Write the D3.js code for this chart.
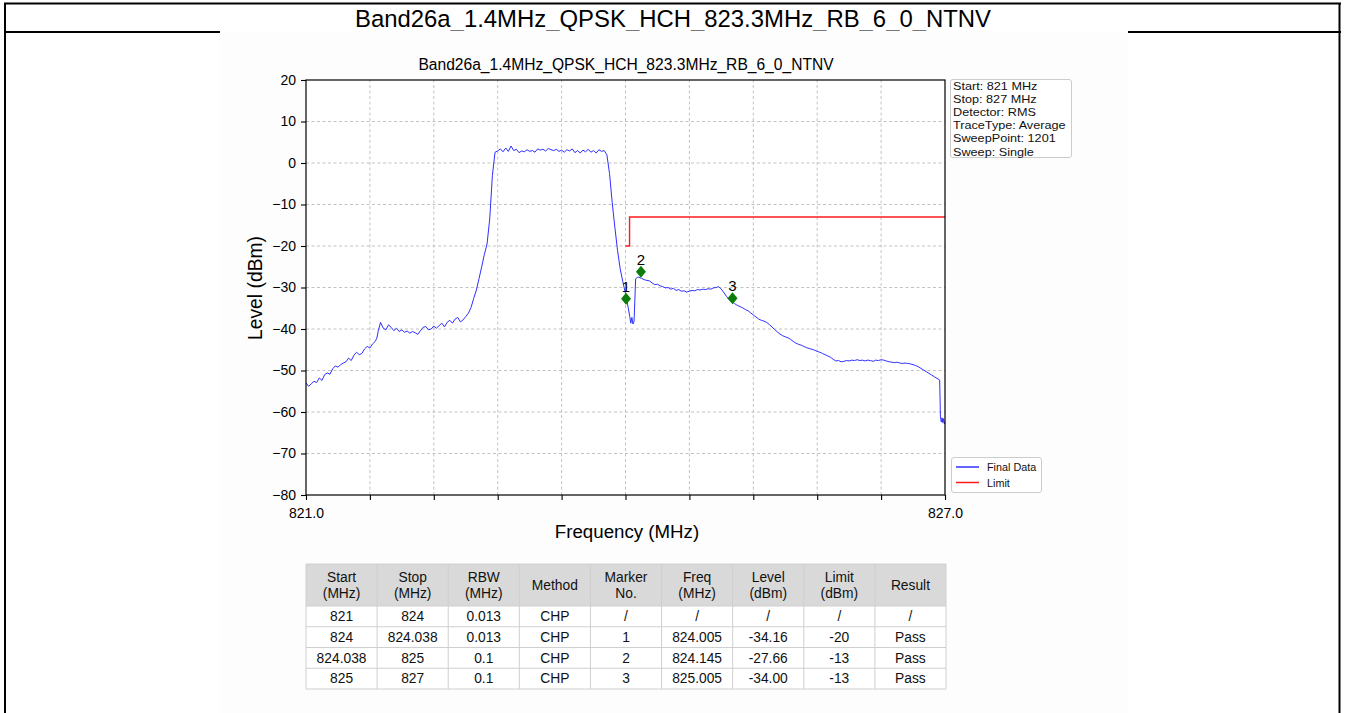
<!DOCTYPE html>
<html><head><meta charset="utf-8">
<script src="https://cdn.jsdelivr.net/npm/d3@7"></script>
<style>body{margin:0;background:#fff}svg{display:block;font-family:"Liberation Sans",Arial,sans-serif}</style>
</head><body><svg id="c" width="1345" height="713"></svg>
<script>
// ---------------- data ----------------
const pageTitle = "Band26a_1.4MHz_QPSK_HCH_823.3MHz_RB_6_0_NTNV";
const chartTitle = "Band26a_1.4MHz_QPSK_HCH_823.3MHz_RB_6_0_NTNV";
const xLabel = "Frequency (MHz)";
const yLabel = "Level (dBm)";
const xDomain = [821, 827];
const yDomain = [-80, 20];
const xTickValues = [821, 821.6, 822.2, 822.8, 823.4, 824, 824.6, 825.2, 825.8, 826.4, 827];
const xTickLabels = ["821.0", "", "", "", "", "", "", "", "", "", "827.0"];
const yTickValues = [-80, -70, -60, -50, -40, -30, -20, -10, 0, 10, 20];

const traceData = [
[821.000,-53.0],[821.025,-53.8],[821.050,-53.2],[821.075,-52.6],[821.100,-52.9],[821.125,-51.8],
[821.150,-52.4],[821.175,-51.0],[821.200,-50.6],[821.225,-50.9],[821.250,-49.6],[821.275,-48.9],
[821.300,-49.2],[821.325,-48.6],[821.350,-48.2],[821.375,-47.9],[821.400,-47.0],[821.425,-47.6],
[821.450,-46.3],[821.475,-45.6],[821.500,-46.2],[821.525,-45.9],[821.550,-44.8],[821.575,-44.2],
[821.600,-44.6],[821.625,-43.6],[821.650,-43.0],[821.665,-42.2],[821.680,-40.3],[821.700,-38.4],
[821.725,-39.8],[821.750,-40.2],[821.775,-39.0],[821.800,-39.6],[821.825,-40.4],[821.850,-39.8],
[821.875,-40.6],[821.900,-40.2],[821.925,-40.8],[821.950,-40.5],[821.975,-41.0],[822.000,-40.6],
[822.025,-40.9],[822.050,-41.3],[822.075,-40.4],[822.100,-39.6],[822.125,-39.4],[822.150,-40.2],
[822.175,-40.0],[822.200,-39.3],[822.225,-39.8],[822.250,-39.2],[822.275,-38.6],[822.300,-39.5],
[822.325,-38.4],[822.350,-37.9],[822.375,-38.6],[822.400,-37.6],[822.425,-37.2],[822.450,-38.3],
[822.475,-37.8],[822.500,-37.0],[822.525,-36.2],[822.550,-34.8],[822.575,-32.6],[822.600,-30.6],
[822.625,-27.8],[822.650,-25.0],[822.675,-22.0],[822.700,-19.5],[822.725,-13.5],[822.750,-3.0],
[822.775,2.6],[822.800,2.9],[822.825,3.4],[822.850,2.7],[822.875,3.6],[822.900,2.8],[822.925,4.1],
[822.950,3.0],[822.975,3.3],[823.000,2.5],[823.025,2.9],[823.050,2.7],[823.075,3.2],[823.100,2.8],
[823.125,3.0],[823.150,2.6],[823.175,3.4],[823.200,3.1],[823.225,3.3],[823.250,2.9],[823.275,3.5],
[823.300,3.2],[823.325,3.0],[823.350,3.3],[823.375,2.8],[823.400,3.1],[823.425,2.6],[823.450,3.2],
[823.475,2.9],[823.500,3.4],[823.525,2.5],[823.550,3.0],[823.575,2.4],[823.600,3.1],[823.625,2.7],
[823.650,3.3],[823.675,2.6],[823.700,3.0],[823.725,2.4],[823.750,3.2],[823.775,2.8],[823.800,3.0],
[823.825,2.0],[823.850,-2.5],[823.875,-9.5],[823.900,-15.5],[823.925,-21.0],[823.950,-25.5],
[823.975,-28.6],[824.000,-31.5],[824.025,-34.8],[824.040,-37.0],[824.050,-38.6],[824.060,-37.2],
[824.070,-38.8],[824.080,-38.2],[824.088,-33.0],[824.095,-27.9],[824.110,-27.6],[824.125,-27.5],
[824.150,-27.8],[824.175,-28.1],[824.200,-28.3],[824.225,-28.4],[824.250,-28.9],[824.275,-29.3],
[824.300,-29.2],[824.325,-29.6],[824.350,-29.8],[824.375,-30.1],[824.400,-30.0],[824.425,-30.4],
[824.450,-30.2],[824.475,-30.7],[824.500,-30.5],[824.525,-30.9],[824.550,-30.8],[824.575,-31.1],
[824.600,-30.9],[824.625,-30.7],[824.650,-30.8],[824.675,-30.5],[824.700,-30.6],[824.725,-30.4],
[824.750,-30.5],[824.775,-30.3],[824.800,-30.4],[824.825,-30.1],[824.850,-30.0],[824.875,-29.8],
[824.900,-30.4],[824.925,-31.3],[824.950,-32.2],[824.975,-33.0],[825.000,-33.4],[825.025,-33.9],
[825.050,-34.3],[825.075,-34.6],[825.100,-34.9],[825.125,-35.3],[825.150,-35.6],[825.175,-36.1],
[825.200,-36.6],[825.225,-37.1],[825.250,-37.6],[825.275,-37.9],[825.300,-38.1],[825.325,-38.4],
[825.350,-38.9],[825.375,-39.5],[825.400,-40.1],[825.425,-40.7],[825.450,-41.2],[825.475,-41.6],
[825.500,-41.9],[825.525,-42.1],[825.550,-42.5],[825.575,-43.0],[825.600,-43.4],[825.625,-43.7],
[825.650,-43.9],[825.675,-44.2],[825.700,-44.5],[825.725,-44.7],[825.750,-44.9],[825.775,-45.1],
[825.800,-45.4],[825.825,-45.6],[825.850,-45.9],[825.875,-46.2],[825.900,-46.5],[825.925,-46.8],
[825.950,-47.3],[825.975,-47.7],[826.000,-47.6],[826.025,-47.9],[826.050,-47.8],[826.075,-47.6],
[826.100,-47.7],[826.125,-47.5],[826.150,-47.6],[826.175,-47.4],[826.200,-47.6],[826.225,-47.5],
[826.250,-47.7],[826.275,-47.5],[826.300,-47.6],[826.325,-47.8],[826.350,-47.5],[826.375,-47.6],
[826.400,-47.4],[826.425,-47.5],[826.450,-47.7],[826.475,-47.9],[826.500,-48.0],[826.525,-48.1],
[826.550,-48.0],[826.575,-48.2],[826.600,-48.3],[826.625,-48.2],[826.650,-48.3],[826.675,-48.4],
[826.700,-48.6],[826.725,-48.8],[826.750,-49.1],[826.775,-49.5],[826.800,-49.9],[826.825,-50.3],
[826.850,-50.7],[826.875,-51.1],[826.900,-51.5],[826.925,-51.9],[826.950,-52.3],[826.957,-61.0],
[826.965,-62.4],[826.972,-61.4],[826.980,-62.6],[826.987,-61.6],[826.994,-62.9],[827.000,-62.5]
];

const limitData = [[824.0,-20],[824.038,-20],[824.038,-13],[827.0,-13]];

const markerFreq = [824.005, 824.145, 825.005];
const markerLevel = [-32.7, -26.2, -32.6];
const markerLabels = ["1", "2", "3"];

const infoLines = ["Start: 821 MHz", "Stop: 827 MHz", "Detector: RMS", "TraceType: Average", "SweepPoint: 1201", "Sweep: Single"];
const legendNames = ["Final Data", "Limit"];

const tableHeaders = [["Start","(MHz)"],["Stop","(MHz)"],["RBW","(MHz)"],["Method"],["Marker","No."],["Freq","(MHz)"],["Level","(dBm)"],["Limit","(dBm)"],["Result"]];
const tableRows = [
  ["821","824","0.013","CHP","/","/","/","/","/"],
  ["824","824.038","0.013","CHP","1","824.005","-34.16","-20","Pass"],
  ["824.038","825","0.1","CHP","2","824.145","-27.66","-13","Pass"],
  ["825","827","0.1","CHP","3","825.005","-34.00","-13","Pass"]
];

// ---------------- drawing ----------------
const svg = d3.select("#c");
const W = 1345, H = 713;
const blue = "#2f2fff", red = "#ff1a1a", green = "#0a7d0a";

// page frame
svg.append("rect").attr("x",0).attr("y",0).attr("width",W).attr("height",H).attr("fill","#fff");
svg.append("text").attr("x",673).attr("y",26.5).attr("text-anchor","middle")
  .attr("font-size",23.9).attr("fill","#000").text(pageTitle);
svg.append("line").attr("x1",4).attr("x2",1341).attr("y1",32).attr("y2",32).attr("stroke","#000").attr("stroke-width",2);
// chart image area
svg.append("rect").attr("x",220).attr("y",31).attr("width",908).attr("height",H-31).attr("fill","#fdfdfd");
svg.append("line").attr("x1",4).attr("x2",1341).attr("y1",3.5).attr("y2",3.5).attr("stroke","#000").attr("stroke-width",2);
svg.append("line").attr("x1",5).attr("x2",5).attr("y1",3).attr("y2",H).attr("stroke","#000").attr("stroke-width",2);
svg.append("line").attr("x1",1339.5).attr("x2",1339.5).attr("y1",3).attr("y2",H).attr("stroke","#000").attr("stroke-width",2);

// scales
const x = d3.scaleLinear().domain(xDomain).range([306, 945]);
const y = d3.scaleLinear().domain(yDomain).range([495, 80]);

const plot = svg.append("g");
plot.append("rect").attr("x",306).attr("y",80).attr("width",639).attr("height",415).attr("fill","#fff");

// grid
plot.append("g").selectAll("line").data(xTickValues.slice(1,-1)).join("line")
  .attr("x1",d=>x(d)).attr("x2",d=>x(d)).attr("y1",y(yDomain[0])).attr("y2",y(yDomain[1]))
  .attr("stroke","#b4b4b4").attr("stroke-width",0.8).attr("stroke-dasharray","3,2.5");
plot.append("g").selectAll("line").data(yTickValues.slice(1,-1)).join("line")
  .attr("x1",x(xDomain[0])).attr("x2",x(xDomain[1])).attr("y1",d=>y(d)).attr("y2",d=>y(d))
  .attr("stroke","#b4b4b4").attr("stroke-width",0.8).attr("stroke-dasharray","3,2.5");

// axes
const fmtMinus = d => String(d).replace("-", "\u2212");
const xAxis = d3.axisBottom(x).tickValues(xTickValues).tickSize(5).tickSizeOuter(0).tickPadding(8)
  .tickFormat((d,i)=>xTickLabels[i]);
const yAxis = d3.axisLeft(y).tickValues(yTickValues).tickSize(5).tickSizeOuter(0).tickPadding(5)
  .tickFormat(fmtMinus);
const gx = plot.append("g").attr("transform","translate(0,495)").call(xAxis);
const gy = plot.append("g").attr("transform","translate(306,0)").call(yAxis);
[gx, gy].forEach(g => {
  g.select(".domain").remove();
  g.selectAll(".tick line").attr("stroke","#000").attr("stroke-width",1.1);
  g.selectAll(".tick text").attr("font-size",14).attr("fill","#000").attr("font-family","Liberation Sans, Arial, sans-serif");
});

// trace
const line = d3.line().x(d=>x(d[0])).y(d=>y(d[1]));
plot.append("path").datum(traceData).attr("d",line).attr("fill","none")
  .attr("stroke",blue).attr("stroke-width",1).attr("stroke-linejoin","round");
plot.append("path").datum(limitData).attr("d",line).attr("fill","none")
  .attr("stroke",red).attr("stroke-width",1.4);

// markers
const mk = plot.append("g");
markerFreq.forEach((f,i)=>{
  const cx = x(f), cy = y(markerLevel[i]);
  mk.append("path").attr("d",`M${cx},${cy-6}L${cx+5},${cy}L${cx},${cy+6}L${cx-5},${cy}Z`).attr("fill",green);
  mk.append("text").attr("x",cx).attr("y",cy-7).attr("text-anchor","middle")
    .attr("font-size",15).attr("fill","#000").text(markerLabels[i]);
});

// spines
plot.append("rect").attr("x",306).attr("y",80).attr("width",639).attr("height",415)
  .attr("fill","none").attr("stroke","#000").attr("stroke-width",1.2);

// titles
svg.append("text").attr("x",626).attr("y",69.5).attr("text-anchor","middle").attr("font-size",15.6)
  .attr("fill","#000").text(chartTitle);
svg.append("text").attr("x",627).attr("y",538).attr("text-anchor","middle").attr("font-size",18.7)
  .attr("fill","#000").text(xLabel);
svg.append("text").attr("transform","translate(255,288) rotate(-90)").attr("dy","0.35em")
  .attr("text-anchor","middle").attr("font-size",19.3).attr("fill","#000").text(yLabel);

// info box (line pitch kept just above the font's line box so lines do not overlap)
const infoFont = 11.3, infoPitch = 13.1, infoStretch = 1.12;
const info = svg.append("g");
info.append("rect").attr("x",950.5).attr("y",79.5).attr("width",121).attr("height",78).attr("rx",2.5)
  .attr("fill","#fff").attr("stroke","#cccccc").attr("stroke-width",1);
const infoTexts = info.selectAll("text").data(infoLines).join("text")
  .attr("x",953).attr("y",(d,i)=>90+i*infoPitch).attr("font-size",infoFont).attr("fill","#111").text(d=>d);
infoTexts.each(function(){
  const w = this.getComputedTextLength();
  d3.select(this).attr("textLength", w*infoStretch).attr("lengthAdjust","spacingAndGlyphs");
});

// legend
const lg = svg.append("g");
lg.append("rect").attr("x",951.5).attr("y",457.5).attr("width",90).attr("height",35).attr("rx",2.5)
  .attr("fill","#fff").attr("stroke","#cccccc").attr("stroke-width",1);
[blue, red].forEach((c,i)=>{
  lg.append("line").attr("x1",956).attr("x2",979).attr("y1",467+i*15.5).attr("y2",467+i*15.5)
    .attr("stroke",c).attr("stroke-width",1.5);
  lg.append("text").attr("x",987).attr("y",471+i*15.5).attr("font-size",10.8).attr("fill","#111").text(legendNames[i]);
});

// table
const tx0 = 306, tw = 640, ncol = tableHeaders.length, cw = tw/ncol;
const ty0 = 564, hh = 42, rh = 20.75;
const tb = svg.append("g");
tb.append("rect").attr("x",tx0).attr("y",ty0).attr("width",tw).attr("height",hh).attr("fill","#d9d9d9");
tb.append("rect").attr("x",tx0).attr("y",ty0+hh).attr("width",tw).attr("height",rh*tableRows.length).attr("fill","#fff");
for (let r=0; r<=tableRows.length; r++) {
  const yy = r===0 ? ty0 : ty0+hh+(r-1)*rh;
  tb.append("line").attr("x1",tx0).attr("x2",tx0+tw).attr("y1",yy).attr("y2",yy).attr("stroke","#cfcfcf");
}
tb.append("line").attr("x1",tx0).attr("x2",tx0+tw).attr("y1",ty0+hh+tableRows.length*rh).attr("y2",ty0+hh+tableRows.length*rh).attr("stroke","#cfcfcf");
for (let c=0; c<=ncol; c++) {
  tb.append("line").attr("x1",tx0+c*cw).attr("x2",tx0+c*cw).attr("y1",ty0).attr("y2",ty0+hh+tableRows.length*rh).attr("stroke","#cfcfcf");
}
tableHeaders.forEach((h,c)=>{
  const cx = tx0 + (c+0.5)*cw;
  h.forEach((t,k)=>{
    const by = h.length===2 ? ty0+18+k*15.5 : ty0+25.5;
    tb.append("text").attr("x",cx).attr("y",by).attr("text-anchor","middle").attr("font-size",13.8).attr("fill","#111").text(t);
  });
});
tableRows.forEach((row,r)=>{
  row.forEach((t,c)=>{
    tb.append("text").attr("x",tx0+(c+0.5)*cw).attr("y",ty0+hh+r*rh+15).attr("text-anchor","middle")
      .attr("font-size",13.8).attr("fill","#111").text(t);
  });
});
</script></body></html>
